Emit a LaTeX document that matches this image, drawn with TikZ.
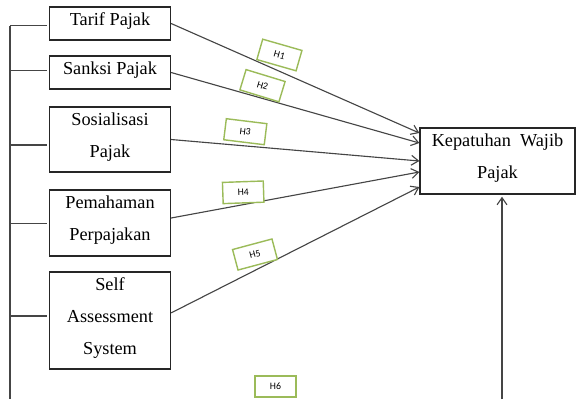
\documentclass[tikz,border=0pt]{standalone}
\usepackage{fontspec}
\setmainfont{Liberation Serif}
\newfontfamily\hfont{Carlito}
\usetikzlibrary{arrows.meta}
\pgfdeclarelayer{edgelayer}
\pgfdeclarelayer{nodelayer}
\pgfsetlayers{edgelayer,nodelayer,main}
\definecolor{edgegray}{HTML}{454545}
\definecolor{hgreen}{HTML}{9BBB59}
\tikzset{font=\fontsize{13}{22.75}\selectfont}
\tikzstyle{none}=[inner sep=0pt]
\tikzstyle{var}=[draw=black!85, line width=0.9pt, fill=white, inner sep=0pt, minimum width=3.025cm]
\tikzstyle{vartext}=[anchor=north, inner sep=0pt, yshift=-4.3pt, align=center]
\tikzstyle{hyp}=[draw=hgreen, line width=1pt, fill=white, inner sep=0pt, minimum width=1.02cm, minimum height=0.53cm, font=\hfont\fontsize{7}{8}\selectfont]
\tikzstyle{edge}=[draw=edgegray, line width=0.8pt]
\tikzstyle{arr}=[edge, -{Straight Barb[length=5pt,width=7pt]}]

\begin{document}
\begin{tikzpicture}
	\useasboundingbox (0,0) rectangle (14.4,-9.975);
	\begin{pgfonlayer}{nodelayer}
		\node [style=var, minimum height=0.825cm, label={[vartext]north:Tarif Pajak}] (0) at (2.75, -0.5875) {};
		\node [style=var, minimum height=0.825cm, label={[vartext]north:Sanksi Pajak}] (1) at (2.75, -1.8125) {};
		\node [style=var, minimum height=1.625cm, label={[vartext]north:Sosialisasi\\Pajak}] (2) at (2.75, -3.4875) {};
		\node [style=var, minimum height=1.65cm, label={[vartext]north:Pemahaman\\Perpajakan}] (3) at (2.75, -5.575) {};
		\node [style=var, minimum height=2.425cm, label={[vartext]north:Self\\Assessment\\System}] (4) at (2.75, -8.0125) {};
		\node [style=var, minimum width=3.875cm, minimum height=1.65cm, label={[vartext]north:Kepatuhan~~Wajib\\Pajak}] (5) at (12.4375, -4.025) {};
		\node [style=hyp, rotate=-16] (6) at (6.985, -1.375) {H1};
		\node [style=hyp, rotate=-17] (7) at (6.5625, -2.1425) {H2};
		\node [style=hyp, rotate=-7] (8) at (6.1325, -3.2925) {H3};
		\node [style=hyp, rotate=2] (9) at (6.08, -4.8075) {H4};
		\node [style=hyp, rotate=15] (10) at (6.375, -6.3625) {H5};
		\node [style=hyp] (11) at (6.8875, -9.6625) {H6};
		\coordinate (12) at (0.25, -0.6425);
		\coordinate (13) at (0.25, -9.975);
		\coordinate (14) at (1.175, -0.6425);
		\coordinate (15) at (1.175, -1.7675);
		\coordinate (16) at (1.175, -3.625);
		\coordinate (17) at (1.175, -5.5825);
		\coordinate (18) at (1.175, -7.9);
		\coordinate (19) at (12.55, -9.975);
	\end{pgfonlayer}
	\begin{pgfonlayer}{edgelayer}
		\draw [style=edge] (12) to (13);
		\draw [style=edge] (12 |- 14) to (14);
		\draw [style=edge] (12 |- 15) to (15);
		\draw [style=edge] (12 |- 16) to (16);
		\draw [style=edge] (12 |- 17) to (17);
		\draw [style=edge] (12 |- 18) to (18);
		\draw [style=arr] (0.east) to ([yshift=0.7cm]5.west);
		\draw [style=arr] (1.east) to ([yshift=0.45cm]5.west);
		\draw [style=arr] (2.east) to (5.west);
		\draw [style=arr] ([yshift=0.125cm]3.east) to ([yshift=-0.275cm]5.west);
		\draw [style=arr] ([yshift=0.19cm]4.east) to ([yshift=-0.65cm]5.west);
		\draw [style=arr, shorten >=1.5pt] (19) to ([xshift=0.1125cm]5.south);
	\end{pgfonlayer}
\end{tikzpicture}
\end{document}
